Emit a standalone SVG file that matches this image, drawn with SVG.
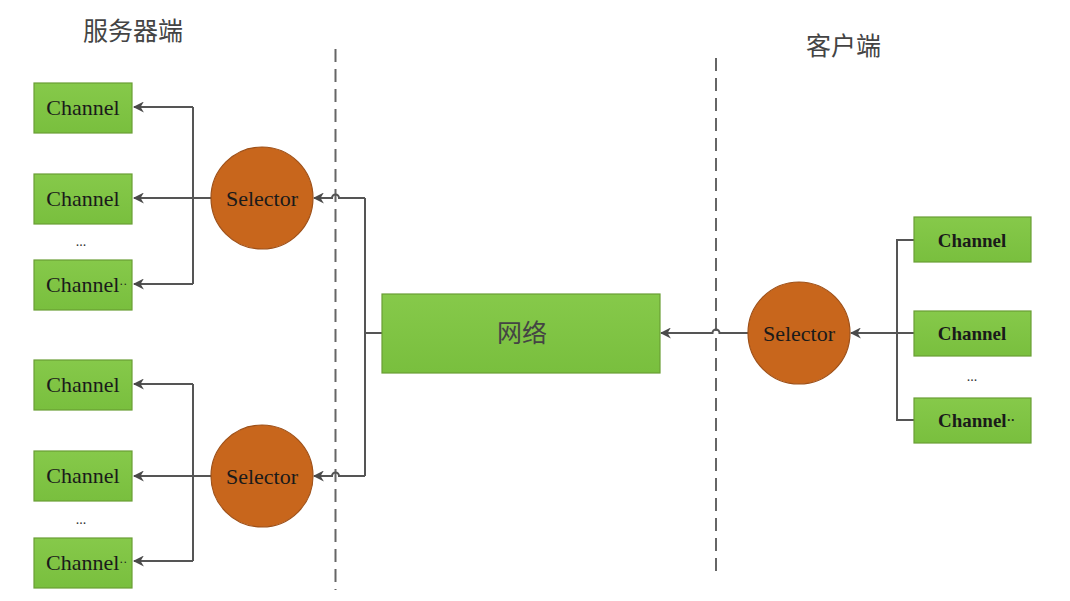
<svg xmlns="http://www.w3.org/2000/svg" width="1070" height="601" viewBox="0 0 1070 601">
<defs>
<linearGradient id="gb" x1="0" y1="0" x2="0" y2="1">
<stop offset="0" stop-color="#86c94a"/>
<stop offset="1" stop-color="#79bf3e"/>
</linearGradient>
<marker id="ar" viewBox="0 0 10 10" refX="9" refY="5" markerWidth="11" markerHeight="11" markerUnits="userSpaceOnUse" orient="auto">
<path d="M0,0 L10,5 L0,10 L3,5 Z" fill="#4a4a4a"/>
</marker>
</defs>
<style>
.box{fill:url(#gb);stroke:#6a9e35;stroke-width:1.2}
.sel{fill:#c8661c;stroke:#9e5018;stroke-width:1.2}
.ch{font-family:"Liberation Serif",serif;font-size:22px;fill:#1a1a1a;text-anchor:middle;dominant-baseline:central}
.chs{font-family:"Liberation Serif",serif;font-size:22px;fill:#1a1a1a;text-anchor:start;dominant-baseline:central}
.chb{font-family:"Liberation Serif",serif;font-size:19px;font-weight:bold;fill:#1a1a1a;text-anchor:middle;dominant-baseline:central}
.chbs{font-family:"Liberation Serif",serif;font-size:19px;font-weight:bold;fill:#1a1a1a;text-anchor:start;dominant-baseline:central}
.st{font-family:"Liberation Serif",serif;font-size:22px;fill:#1a1a1a;text-anchor:middle;dominant-baseline:central}
.dots{font-family:"Liberation Serif",serif;font-size:14px;fill:#333;text-anchor:middle}
.cjk{font-family:"Liberation Sans","Noto Sans CJK SC",sans-serif;font-size:25px;fill:#444}
.ln{fill:none;stroke:#555;stroke-width:2}
.dash{fill:none;stroke:#666;stroke-width:2;stroke-dasharray:13 7}
</style>

<g id="labels">
<text class="cjk" x="83" y="40">服务器端</text>
<text class="cjk" x="806" y="55">客户端</text>
</g>

<g id="separators">
<line class="dash" x1="335.5" y1="49" x2="335.5" y2="590"/>
<line class="dash" x1="716" y1="58" x2="716" y2="576"/>
</g>

<g id="connectors">
<path class="ln" d="M193,107 L193,284" />
<path class="ln" d="M193,107 L134,107" marker-end="url(#ar)"/>
<path class="ln" d="M211,198 L134,198" marker-end="url(#ar)"/>
<path class="ln" d="M193,284 L134,284" marker-end="url(#ar)"/>
<path class="ln" d="M193,384 L193,561" />
<path class="ln" d="M193,384 L134,384" marker-end="url(#ar)"/>
<path class="ln" d="M211,476 L134,476" marker-end="url(#ar)"/>
<path class="ln" d="M193,561 L134,561" marker-end="url(#ar)"/>
<path class="ln" d="M365,198 L365,476"/>
<path class="ln" d="M365,333 L382,333"/>
<path class="ln" d="M365,198 L339,198 A3.5,3.5 0 0 0 332,198 L314,198" marker-end="url(#ar)"/>
<path class="ln" d="M365,476 L339,476 A3.5,3.5 0 0 0 332,476 L314,476" marker-end="url(#ar)"/>
<path class="ln" d="M748,333 L719.5,333 A3.5,3.5 0 0 0 712.5,333 L661,333" marker-end="url(#ar)"/>
<path class="ln" d="M914,240 L897,240 L897,420 L914,420"/>
<path class="ln" d="M914,333 L851,333" marker-end="url(#ar)"/>
</g>

<g id="ch-s1"><rect class="box" x="34" y="83" width="98" height="50"/><text class="ch" x="83" y="107">Channel</text></g>
<g id="ch-s2"><rect class="box" x="34" y="174" width="98" height="50"/><text class="ch" x="83" y="198">Channel</text></g>
<text class="dots" x="81" y="246">...</text>
<g id="ch-s3"><rect class="box" x="34" y="260" width="98" height="50"/><text class="chs" x="46" y="284">Channel<tspan font-size="12">··</tspan></text></g>

<g id="ch-s4"><rect class="box" x="34" y="360" width="98" height="50"/><text class="ch" x="83" y="384">Channel</text></g>
<g id="ch-s5"><rect class="box" x="34" y="451" width="98" height="50"/><text class="ch" x="83" y="475">Channel</text></g>
<text class="dots" x="81" y="524">...</text>
<g id="ch-s6"><rect class="box" x="34" y="538" width="98" height="50"/><text class="chs" x="46" y="562">Channel<tspan font-size="12">··</tspan></text></g>

<g id="sel-s1"><circle class="sel" cx="262" cy="198" r="51"/><text class="st" x="262" y="198">Selector</text></g>
<g id="sel-s2"><circle class="sel" cx="262" cy="476" r="51"/><text class="st" x="262" y="476">Selector</text></g>

<g id="network"><rect class="box" x="382" y="294" width="278" height="79"/><text class="cjk" x="522" y="342" text-anchor="middle">网络</text></g>

<g id="sel-c"><circle class="sel" cx="799" cy="333" r="51"/><text class="st" x="799" y="333">Selector</text></g>

<g id="ch-c1"><rect class="box" x="914" y="217" width="117" height="45"/><text class="chb" x="972" y="240">Channel</text></g>
<g id="ch-c2"><rect class="box" x="914" y="311" width="117" height="45"/><text class="chb" x="972" y="333">Channel</text></g>
<text class="dots" x="972" y="381">...</text>
<g id="ch-c3"><rect class="box" x="914" y="398" width="117" height="45"/><text class="chbs" x="938" y="420">Channel<tspan font-size="12">··</tspan></text></g>
</svg>
